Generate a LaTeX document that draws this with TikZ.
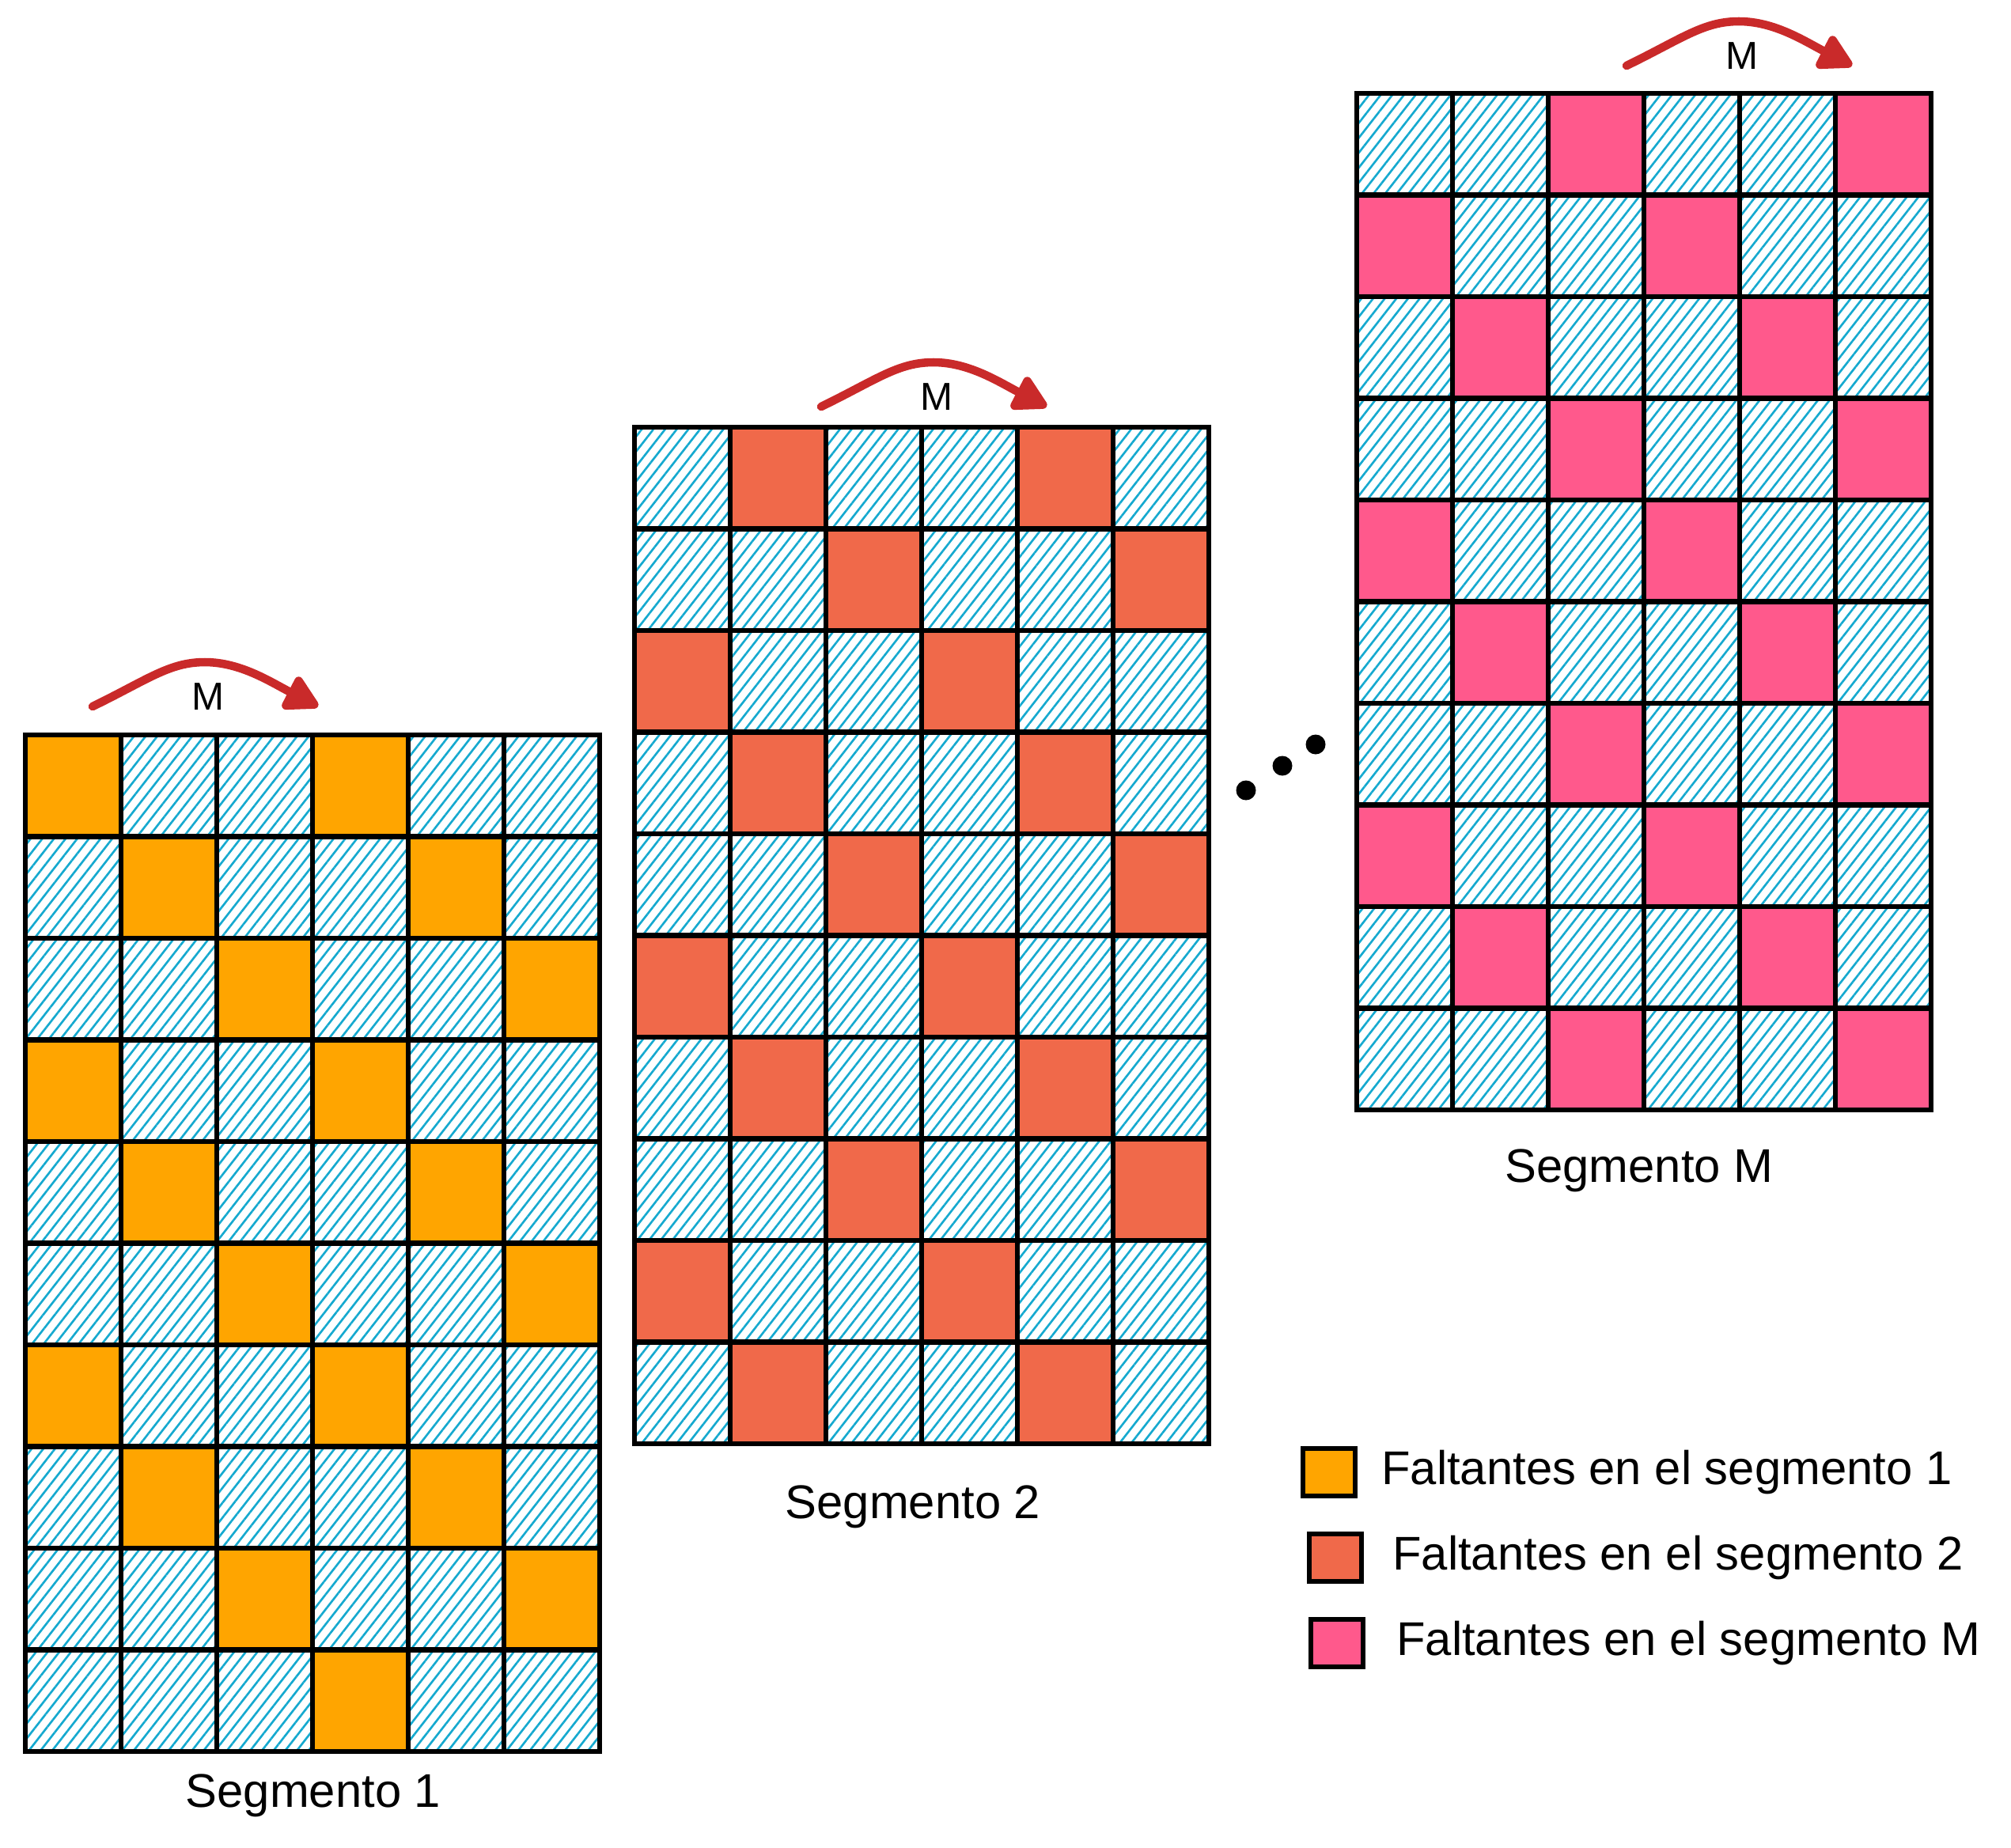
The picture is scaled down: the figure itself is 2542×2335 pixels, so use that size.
\documentclass[tikz,border=0pt]{standalone}
\usepackage{fontspec}
\setmainfont{Liberation Sans}
\usetikzlibrary{arrows.meta, positioning, patterns.meta}

\definecolor{rayado}{HTML}{15A9CF}
\definecolor{falta1}{HTML}{FFA500}
\definecolor{falta2}{HTML}{F0694A}
\definecolor{faltaM}{HTML}{FF598C}
\definecolor{rojoflecha}{HTML}{C92A2A}

\begin{document}
\begin{tikzpicture}[
    x=0.01cm, y=-0.01cm,
    every node/.style={font=\fontsize{17}{20}\selectfont},
    caja/.style={draw,line width=1.8pt,inner sep=0pt,outer sep=0pt,
                 minimum width=1.21cm,minimum height=1.285cm},
    celda/.style={caja,pattern={Lines[angle=52,distance=3.3pt,line width=0.75pt]},
                  pattern color=rayado},
    hueco/.style={caja,fill=#1},
    muestra/.style={draw,line width=1.6pt,fill=#1,inner sep=0pt,
                    minimum width=0.66cm,minimum height=0.6cm},
    desp/.style={-{Triangle[length=0.48cm,width=0.5cm,round]},
                 line width=3pt,draw=rojoflecha,line cap=round},
    punto/.style={circle,fill=black,inner sep=0pt,minimum size=0.25cm}
]
\useasboundingbox (0,0) rectangle (2542,2335);

\foreach \sg/\ox/\oy/\kk/\colr in {1/32/929/0/falta1, 2/802/540/1/falta2, M/1715/118/2/faltaM}{
  \foreach \fila in {0,...,9}{
    \foreach \colu in {0,...,5}{
      \pgfmathtruncatemacro{\esfalta}{(mod(\fila+\kk,3)==mod(\colu,3))*((\kk*100+\fila*10+\colu)!=90)}
      \ifnum\esfalta=1
        \node[hueco=\colr] (s\sg-\fila-\colu) at ({\ox+60.5+121*\colu},{\oy+64.25+128.5*\fila}) {};
      \else
        \node[celda] (s\sg-\fila-\colu) at ({\ox+60.5+121*\colu},{\oy+64.25+128.5*\fila}) {};
      \fi
    }
  }
}

\foreach \sg/\ax/\ay in {1/117/893, 2/1038/514, M/2056/83}{
  \coordinate (ini\sg) at (\ax,\ay);
  \coordinate (cima\sg) at (\ax+142,\ay-56);
  \coordinate (fin\sg) at (\ax+285,\ay);
  \draw[desp] (ini\sg) .. controls (\ax+70,\ay-34) and (\ax+97,\ay-56) .. (cima\sg)
                       .. controls (\ax+187,\ay-56) and (\ax+225,\ay-31) .. (fin\sg);
  \node[font=\fontsize{14}{16}\selectfont] (m\sg) at (\ax+146,\ay-12) {M};
}

\node[punto] (p1) at (1575,999) {};
\node[punto] (p2) at (1621,968) {};
\node[punto] (p3) at (1663,941) {};

\node (seg1) at (396,2270) {Segmento 1};
\node (seg2) at (1154,1905) {Segmento 2};
\node (segM) at (2072,1480) {Segmento M};

\node[muestra=falta1] (ley1) at (1680,1861) {};
\node[muestra=falta2] (ley2) at (1688,1969) {};
\node[muestra=faltaM] (ley3) at (1690,2077) {};
\node[right=0.18cm of ley1] (txt1) {Faltantes en el segmento 1};
\node[right=0.24cm of ley2] (txt2) {Faltantes en el segmento 2};
\node[right=0.27cm of ley3] (txt3) {Faltantes en el segmento M};
\end{tikzpicture}
\end{document}
